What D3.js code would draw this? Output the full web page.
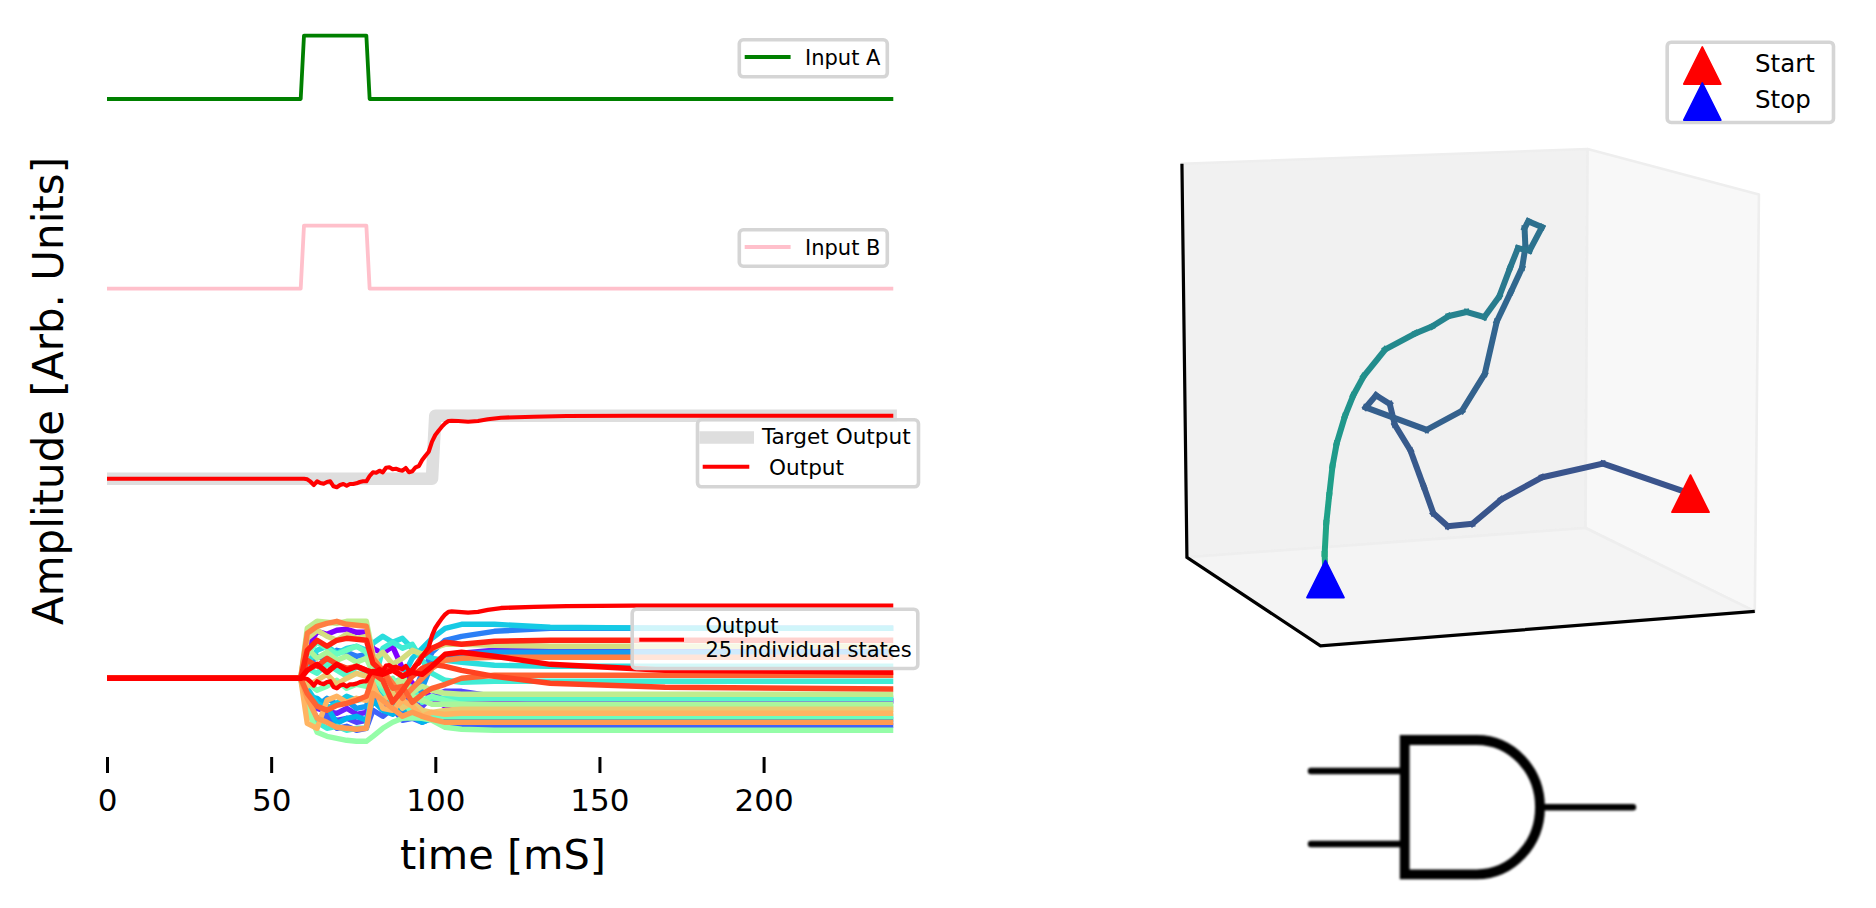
<!DOCTYPE html>
<html><head><meta charset="utf-8">
<script src="https://d3js.org/d3.v7.min.js"></script>
<style>html,body{margin:0;padding:0;background:#fff;overflow:hidden}svg{display:block}text{font-family:"DejaVu Sans";fill:#000}</style>
</head><body><svg id="c" width="1876" height="908"></svg>
<script>
// ---- data ----
const xTicks=[0,50,100,150,200];
const inputT=[0,59,60,79,80,239.5];
const inputA=[0,0,1,1,0,0];
const inputB=[0,0,1,1,0,0];
const targetT=[0,99,100,240.6];
const targetV=[0,0,63,63];
const outputT=[0,59,60,61,62,63,64,65,66,67,68,69,70,71,72,73,74,75,76,77,78,79,80,81,82,83,84,85,86,87,88,89,90,91,92,93,94,95,96,97,98,99,100,101,102,103,104,105,107,110,113,116,120,130,140,160,239.5];
const outputV=[0,0,0,-0.6,-3,-6.3,-2.6,-4.3,-5,-3.3,-2.6,-7.6,-8.6,-6.3,-5.3,-7,-5.3,-5.3,-4.6,-3.3,-2.6,-2.6,2.7,6.4,6,8,6.4,11,11.4,9.4,10,8.7,8,10.7,6.4,7.4,11.4,12.7,18.7,23,27,37,43.7,48,52,55.4,57.7,58,57.7,57,57.7,59.4,61,62,62.7,63,63];
const stateT=[0,59,61,64,67,70,73,76,79,81,84,87,90,93,96,99,103,108,118,135,170,239.5];
const state00=[0,0,30,47,44,48,49,46,46,30,25,32,10,-5,-10,-20,-28,-24,-22,-22,-22,-22];
const state01=[0,0,-20,-30,-33,-35,-30,-36,-34,-15,-25,-18,-30,-10,-2,12,20,25,28,28,28,28];
const state02=[0,0,-15,-22,-38,-42,-40,-44,-42,-18,-30,-22,-35,-25,-28,-18,-13,-13,-18,-23,-23,-23];
const state03=[0,0,-25,-40,-38,-50,-48,-52,-50,-32,-38,-30,-42,-40,-44,-40,-44,-48,-47,-47,-47,-47];
const state04=[0,0,12,22,18,28,26,22,24,8,-16,-22,-32,-18,5,26,38,42,47,50,50,50];
const state05=[0,0,-12,-28,-20,-26,-22,-30,-28,-8,-20,-28,-22,-28,-10,15,22,24,26,26,26,26];
const state06=[0,0,-18,-20,-28,-45,-40,-38,-42,-22,-32,-36,-28,-38,-44,-40,-40,-41,-41,-41,-41,-41];
const state07=[0,0,-10,-25,-30,-25,-18,-22,-20,-5,-15,-5,0,20,30,40,50,54,54,51,50,50];
const state08=[0,0,15,28,32,25,30,32,28,35,42,36,40,30,24,20,18,16,13,12,12,12];
const state09=[0,0,-30,-44,-50,-48,-52,-50,-50,-10,30,36,30,34,18,5,-2,-4,-3,-3,-3,-3];
const state10=[0,0,10,5,14,8,2,12,6,8,-5,-14,-2,-10,-24,-20,-20,-21,-20,-20,-20,-20];
const state11=[0,0,25,36,30,24,28,32,26,5,-12,-24,-20,-36,-34,-38,-38,-38,-38,-38,-38,-38];
const state12=[0,0,-5,-12,-8,-2,-10,-6,-8,0,-8,0,-14,-20,-22,-18,-22,-26,-29,-29,-29,-29];
const state13=[0,0,-30,-54,-58,-60,-62,-63,-63,-58,-50,-44,-40,-39.5,-40,-42,-49,-51,-52,-52,-52,-52];
const state14=[0,0,30,20,26,18,22,16,20,6,-6,-14,4,-18,-22,-26,-26,-26,-26,-26,-26,-26];
const state15=[0,0,50,57,56,55,57,57,57,24,4,-8,-2,-14,-8,-12,-15,-16,-16,-16,-16,-16];
const state16=[0,0,40,48,42,38,44,40,42,18,26,14,20,28,24,30,34,34,33,32,32,32];
const state17=[0,0,-8,-2,4,-6,0,5,2,-10,-22,-15,-30,-24,-32,-34,-32,-31,-31,-31,-31,-31];
const state18=[0,0,-45,-50,-22,-18,-24,-20,-22,-5,-30,-32,-22,-28,-38,-34,-36,-35,-35,-35,-35,-35];
const state19=[0,0,-20,-40,-44,-49,-50,-51,-50,-15,-22,-30,-38,-34,-38,-41,-44,-44,-44,-44,-44,-44];
const state20=[0,0,45,52,55,57,54,53,52,20,8,-5,-20,-10,0,10,18,20,21,21,21,21];
const state21=[0,0,-15,-28,-32,-27,-25,-22,-18,2,8,-10,-8,-24,-16,-10,-6,0,3,3,3,3];
const state22=[0,0,18,12,20,14,10,12,8,5,-2,-24,-12,2,10,14,12,8,2,-5,-9,-10.7];
const state23=[0,0,28,38,32,38,40,39,38,15,6,10,2,8,22,30,36,34,37,38,38,38];
const state24=[0,0,8,14,6,14,8,12,8,6,4,8,2,6,4,12,24,26,22,14,8,6];
const states=[state00,state01,state02,state03,state04,state05,state06,state07,state08,state09,state10,state11,state12,state13,state14,state15,state16,state17,state18,state19,state20,state21,state22,state23,state24];
// trajectory in projected 3D axes units, from start to stop
const trajP1=[1303,1092,945,847,777,718,683,660,628,590,578,545,520,667,752,807,836,870,897,905,903,912,945,915,887,868,842,806,763,720,680,640,567,515,490,470,450,440,432,425,421,423];
const trajP2=[1055,968,1008,1072,1143,1150,1112,1035,930,855,795,770,805,870,815,708,556,470,400,340,285,265,282,350,343,400,483,543,528,540,570,590,637,715,770,830,910,975,1060,1140,1230,1303];
const wallLeftP1=[77,1055,1050,89], wallLeftP2=[98,55,1155,1240];
const wallRightP1=[1055,1468,1458,1050], wallRightP2=[55,187,1397,1155];
const floorP1=[89,1050,1458,411], floorP2=[1240,1155,1397,1497];
const spineP1=[77,89,411,1458], spineP2=[98,1240,1497,1397];
const labelsIO=["Input A","Input B"];

// ---- layout ----
const svg=d3.select("#c");
const x=d3.scaleLinear().domain([0,200]).range([107,763.6]);
const yA=d3.scaleLinear().domain([0,1]).range([99,35.7]);
const yB=d3.scaleLinear().domain([0,1]).range([288.7,225.7]);
const yC=d3.scaleLinear().domain([0,63]).range([478.7,415.7]);
const yD=d3.scaleLinear().domain([0,63]).range([678.3,605.7]);
const yS=d3.scaleLinear().domain([0,72.6]).range([678.3,605.7]);
const px=d3.scaleLinear().domain([0,1567]).range([1150,1800]);
const py=d3.scaleLinear().domain([0,1567]).range([130,670]);
const rainbow=t=>{const f=v=>Math.round(255*Math.max(0,Math.min(1,v)));
  return `rgb(${f(Math.abs(2*t-0.5))},${f(Math.sin(Math.PI*t))},${f(Math.cos(Math.PI*t/2))})`;};
const mkLine=(T,V,Y)=>d3.line().x((d,i)=>x(T[i])).y(d=>Y(d))(V);
const draw=(T,V,Y,col,w)=>svg.append("path").attr("d",mkLine(T,V,Y)).attr("fill","none")
  .attr("stroke",col).attr("stroke-width",w).attr("stroke-linejoin","round").attr("stroke-linecap","butt");
const txt=(s,tx,ty,fs,anchor)=>svg.append("text").attr("x",tx).attr("y",ty).attr("font-size",fs).attr("text-anchor",anchor||"start").text(s);
const frame=(l,t,w,h)=>svg.append("rect").attr("x",l).attr("y",t).attr("width",w).attr("height",h).attr("rx",4)
  .attr("fill","#fff").attr("fill-opacity",0.8).attr("stroke","#d5d5d5").attr("stroke-width",3.6);
const handle=(a,b,yy,col,w)=>svg.append("line").attr("x1",a).attr("x2",b).attr("y1",yy).attr("y2",yy).attr("stroke",col).attr("stroke-width",w);

// panels
draw(inputT,inputA,yA,"#008000",3.8);
draw(inputT,inputB,yB,"#ffc0cb",3.8);
draw(targetT,targetV,yC,"#dedede",12.6);
draw(outputT,outputV,yC,"#ff0000",4.1);
states.forEach((s,i)=>draw(stateT,s,yS,rainbow(i/24),5.4));
draw(outputT,outputV,yD,"#ff0000",4.3);

// legends
frame(739.3,39.8,148,37);handle(744.7,790.6,57,"#008000",3.8);txt(labelsIO[0],805,64.8,21);
frame(739.3,229.8,148,36.4);handle(744.7,790.6,247,"#ffc0cb",3.8);txt(labelsIO[1],805,254.8,21);
frame(697.5,419.8,221,67);handle(699.3,754,437.5,"#dedede",12.6);handle(702.7,749.3,466.7,"#ff0000",4);
txt("Target Output",762,444,21.6);txt("Output",769,475,21.6);
frame(632.2,609.2,285.6,59.3);handle(639.3,684,639.7,"#ff0000",4);
txt("Output",705.5,633.3,21);txt("25 individual states",705.5,656.7,21);

// axis
const axis=svg.append("g").attr("transform","translate(0,757)").call(d3.axisBottom(x).tickValues(xTicks).tickSize(16).tickPadding(16));
axis.select(".domain").remove();
axis.selectAll(".tick line").attr("stroke","#000").attr("stroke-width",3);
axis.selectAll(".tick text").attr("font-size",31).attr("font-family","DejaVu Sans").attr("fill","#000");
txt("time [mS]",503,869,41.5,"middle");
svg.append("text").attr("transform","translate(63,391) rotate(-90)").attr("text-anchor","middle").attr("font-size",42).text("Amplitude [Arb. Units]");

// 3D box
const poly=(P1,P2,fill)=>svg.append("polygon").attr("points",P1.map((d,i)=>[px(d),py(P2[i])].join(",")).join(" "))
  .attr("fill",fill).attr("stroke","#eeeeee").attr("stroke-width",2.6).attr("stroke-linejoin","round");
poly(wallLeftP1,wallLeftP2,"#f1f1f1");
poly(wallRightP1,wallRightP2,"#f8f8f8");
poly(floorP1,floorP2,"#f4f4f4");
svg.append("polyline").attr("points",spineP1.map((d,i)=>[px(d),py(spineP2[i])].join(",")).join(" "))
  .attr("fill","none").attr("stroke","#000").attr("stroke-width",3.2).attr("stroke-linejoin","miter");
const n=trajP1.length;
d3.range(n-1).forEach(i=>{
  svg.append("line").attr("x1",px(trajP1[i])).attr("y1",py(trajP2[i])).attr("x2",px(trajP1[i+1])).attr("y2",py(trajP2[i+1]))
   .attr("stroke",d3.interpolateViridis(0.26+0.34*Math.pow(i/(n-2),1.8))).attr("stroke-width",6).attr("stroke-linecap","square");
});
const tri=(cx,cy,col)=>svg.append("path").attr("transform",`translate(${cx},${cy})`).attr("d","M0,-18.6 L18.6,18.6 L-18.6,18.6Z")
  .attr("fill",col).attr("stroke",col).attr("stroke-width",1.6).attr("stroke-linejoin","round");
tri(px(trajP1[0]),py(trajP2[0]),"#ff0000");
tri(px(trajP1[n-1]),py(trajP2[n-1]),"#0000ff");
frame(1667.2,42.2,166.3,80.3);
tri(1702.3,65.5,"#ff0000");
tri(1702.3,101.5,"#0000ff");
txt("Start",1755,72,24.5);
txt("Stop",1755,108,24.5);

// AND gate symbol
const defs=svg.append("defs");
defs.append("filter").attr("id","soft").append("feGaussianBlur").attr("stdDeviation",0.8);
const gate=svg.append("g").attr("fill","none").attr("stroke","#000").attr("filter","url(#soft)");
gate.append("path").attr("stroke-width",9.8).attr("stroke-linejoin","miter").attr("d","M1404.7,740 H1476.7 A63.3,67.2 0 0 1 1476.7,874.4 H1404.7 Z");
gate.append("path").attr("stroke-width",6.4).attr("stroke-linecap","round").attr("d","M1311,771 H1402 M1311,844 H1402 M1545,807.3 H1633");
</script></body></html>
